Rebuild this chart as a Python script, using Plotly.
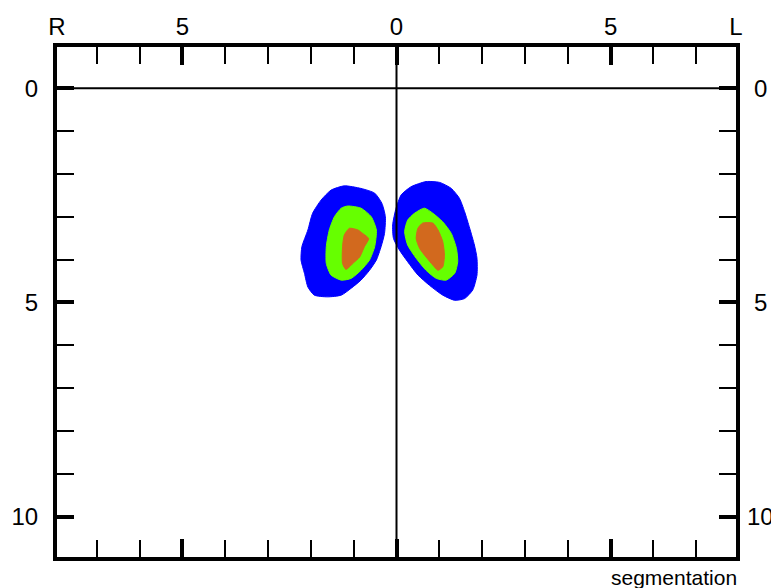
import plotly.graph_objects as go

# Axis ticks and labels
x_range = [-7.93, 7.93]
y_range = [10.94, -0.96]
top_tick_vals = [-7.93, -5, 0, 5, 7.93]
top_tick_text = ["R", "5", "0", "5", "L"]
side_tick_vals = [0, 5, 10]
side_tick_text = ["0", "5", "10"]

# Region outlines (data units)
right_blue_x = [-1.22, -0.83, -0.51, -0.34, -0.26, -0.28, -0.36, -0.47, -0.63, -0.83, -1.06, -1.29, -1.61, -1.92, -2.07, -2.15, -2.23, -2.21, -2.07, -1.96, -1.76, -1.53]
right_blue_y = [2.28, 2.34, 2.45, 2.69, 3.00, 3.39, 3.70, 4.01, 4.25, 4.48, 4.67, 4.83, 4.87, 4.83, 4.64, 4.32, 4.01, 3.70, 3.31, 2.92, 2.61, 2.38]
right_green_x = [-1.14, -0.83, -0.59, -0.47, -0.51, -0.63, -0.83, -1.06, -1.29, -1.53, -1.64, -1.64, -1.57, -1.45, -1.29]
right_green_y = [2.75, 2.80, 3.00, 3.31, 3.70, 4.01, 4.25, 4.44, 4.48, 4.36, 4.09, 3.70, 3.31, 3.00, 2.80]
right_orange_x = [-1.10, -0.90, -0.79, -0.65, -0.75, -0.86, -1.02, -1.18, -1.26, -1.26, -1.22]
right_orange_y = [3.27, 3.31, 3.39, 3.51, 3.70, 3.94, 4.09, 4.23, 4.09, 3.70, 3.43]

left_blue_x = [0.69, 1.01, 1.28, 1.47, 1.59, 1.71, 1.82, 1.88, 1.88, 1.78, 1.59, 1.36, 1.08, 0.77, 0.50, 0.26, 0.07, -0.07, -0.09, -0.01, 0.11, 0.34]
left_blue_y = [2.18, 2.20, 2.34, 2.57, 2.88, 3.27, 3.66, 3.97, 4.36, 4.71, 4.91, 4.95, 4.83, 4.60, 4.36, 4.05, 3.78, 3.51, 3.19, 2.80, 2.49, 2.30]
left_green_x = [0.65, 0.85, 1.08, 1.28, 1.40, 1.43, 1.36, 1.16, 0.93, 0.69, 0.46, 0.26, 0.19, 0.26, 0.42]
left_green_y = [2.80, 2.92, 3.12, 3.39, 3.74, 4.05, 4.32, 4.48, 4.44, 4.25, 3.97, 3.66, 3.35, 3.08, 2.92]
left_orange_x = [0.61, 0.85, 0.97, 1.08, 1.12, 1.08, 0.97, 0.85, 0.69, 0.54, 0.46, 0.50]
left_orange_y = [3.15, 3.15, 3.31, 3.58, 3.90, 4.17, 4.25, 4.13, 3.94, 3.74, 3.51, 3.27]

BLUE = "#0000FF"
GREEN = "#66FF00"
ORANGE = "#D2691E"

fig = go.Figure()

regions = [
    (right_blue_x, right_blue_y, BLUE),
    (right_green_x, right_green_y, GREEN),
    (right_orange_x, right_orange_y, ORANGE),
    (left_blue_x, left_blue_y, BLUE),
    (left_green_x, left_green_y, GREEN),
    (left_orange_x, left_orange_y, ORANGE),
]
for xs, ys, col in regions:
    fig.add_trace(go.Scatter(
        x=xs + xs[:1], y=ys + ys[:1], mode="lines", fill="toself",
        fillcolor=col, line=dict(color=col, width=1, shape="spline", smoothing=0.6),
        hoverinfo="skip", showlegend=False,
    ))

# invisible trace on the overlay axis so it renders
fig.add_trace(go.Scatter(x=[None], y=[None], xaxis="x2", showlegend=False))

FONT = "Liberation Sans, Arial, sans-serif"
tickfont = dict(family=FONT, size=24, color="black")

# right-side labels, centred like in the reference
right_labels = [
    dict(text=t, xref="paper", yref="y", x=1, y=v, xanchor="center", yanchor="middle",
         xshift=24, showarrow=False, font=tickfont)
    for v, t in zip(side_tick_vals, side_tick_text)
]

# The page body has an 8px margin, so the figure is sized and offset to fit the 779x588 window
fig.update_layout(
    width=771, height=580,
    margin=dict(l=49, r=43, t=39, b=31, autoexpand=False),
    paper_bgcolor="white", plot_bgcolor="white",
    xaxis=dict(range=x_range, showgrid=False, zeroline=False, automargin=False,
               showline=True, linewidth=4, linecolor="black", mirror="allticks",
               ticks="inside", ticklen=18, tickwidth=4, tickcolor="black",
               tick0=0, dtick=5, showticklabels=False,
               minor=dict(ticks="inside", ticklen=17, tickwidth=2, tickcolor="black", dtick=1, tick0=0)),
    yaxis=dict(range=y_range, showgrid=False, zeroline=False, automargin=False,
               showline=True, linewidth=4, linecolor="black", mirror="allticks",
               ticks="inside", ticklen=17, tickwidth=4, tickcolor="black",
               tick0=0, dtick=5, tickvals=side_tick_vals, ticktext=side_tick_text,
               tickfont=tickfont, ticklabelstandoff=10,
               minor=dict(ticks="inside", ticklen=17, tickwidth=2, tickcolor="black", dtick=1, tick0=0)),
    xaxis2=dict(range=x_range, overlaying="x", side="top", showgrid=False, zeroline=False,
                automargin=False, showline=False, ticks="", tickvals=top_tick_vals,
                ticktext=top_tick_text, tickfont=tickfont, ticklabelstandoff=6),
    shapes=[
        dict(type="line", xref="x", yref="paper", x0=0, x1=0, y0=0, y1=1,
             line=dict(color="black", width=2), layer="above"),
        dict(type="line", xref="paper", yref="y", x0=0, x1=1, y0=0, y1=0,
             line=dict(color="black", width=2), layer="above"),
    ],
    annotations=right_labels + [
        dict(text="segmentation", xref="paper", yref="paper", x=1.005, y=0,
             xanchor="right", yanchor="top", yshift=-7, showarrow=False,
             font=dict(family=FONT, size=21, color="black")),
    ],
)

fig.write_html("out.html")
